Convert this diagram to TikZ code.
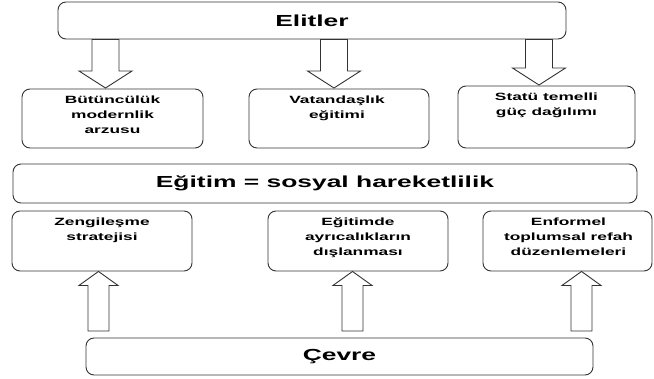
\documentclass[tikz,border=0pt]{standalone}
\usepackage{fontspec}
\setmainfont[FakeStretch=1.65]{Liberation Sans}
\usetikzlibrary{calc}

% block arrow: tail, tip, half shaft, half head, head length
\def\fatarrow#1#2#3#4#5{%
	\path ($(#2)!#5pt!(#1)$) coordinate (hb);
	\draw[blockarrow] ($(#1)+(-#3,0)$) -- ($(hb)+(-#3,0)$) -- ($(hb)+(-#4,0)$) -- (#2)
		-- ($(hb)+(#4,0)$) -- ($(hb)+(#3,0)$) -- ($(#1)+(#3,0)$) -- cycle;}

\begin{document}
\begin{tikzpicture}[x=1pt,y=-1pt,
	box/.style={draw=black!80,line width=0.9pt,rounded corners=8pt,fill=white,inner sep=0pt},
	lbl/.style={align=center,inner sep=0pt,font=\fontsize{10.5}{15}\selectfont\bfseries},
	big/.style={font=\fontsize{16}{19}\selectfont\bfseries},
	blockarrow/.style={draw=black!80,line width=0.9pt,fill=white}]
	
	\useasboundingbox (0,0) rectangle (654,378);
	
	\node[box,big,minimum width=508pt,minimum height=37pt] (elit) at (312,20.5) {Elitler};
	\node[box,minimum width=181pt,minimum height=59pt] (b1) at (112.5,118.5) {};
	\node[box,minimum width=180pt,minimum height=59pt] (b2) at (339,118.5) {};
	\node[box,minimum width=177pt,minimum height=62pt] (b3) at (546.5,117) {};
	\node[box,big,minimum width=624pt,minimum height=39pt] (egitim) at (325,183.5) {Eğitim = sosyal hareketlilik};
	\node[box,minimum width=180pt,minimum height=60pt] (c1) at (102,241) {};
	\node[box,minimum width=180pt,minimum height=60pt] (c2) at (358,241) {};
	\node[box,minimum width=169pt,minimum height=60pt] (c3) at (567.5,241) {};
	\node[box,big,minimum width=507pt,minimum height=37pt] (cevre) at (339.5,356.5) {Çevre};
	
	\node[lbl,anchor=north] (b1t) at ($(b1.north)+(0,7)$) {Bütüncülük\\modernlik\\arzusu};
	\node[lbl,anchor=north] (b2t) at ($(b2.north)+(-2,7)$) {Vatandaşlık\\eğitimi};
	\node[lbl,anchor=north] (b3t) at ($(b3.north)+(0,7)$) {Statü temelli\\güç dağılımı};
	\node[lbl,anchor=north] (c1t) at ($(c1.north)+(0,7)$) {Zengileşme\\stratejisi};
	\node[lbl,anchor=north] (c2t) at ($(c2.north)+(0,7)$) {Eğitimde\\ayrıcalıkların\\dışlanması};
	\node[lbl,anchor=north] (c3t) at ($(c3.north)+(1,7)$) {Enformel\\toplumsal refah\\düzenlemeleri};
	
	% arrows down from Elitler
	\coordinate (d1) at (105.5,88);
	\coordinate (d2) at (334,88);
	\coordinate (d3) at (539,85);
	\fatarrow{elit.south -| d1}{d1}{13.5}{26.5}{17}
	\fatarrow{elit.south -| d2}{d2}{13.5}{26.5}{17}
	\fatarrow{elit.south -| d3}{d3}{13.5}{26.5}{17}
	
	% arrows up from Cevre
	\coordinate (u1) at (98.5,331);
	\coordinate (u2) at (352.5,331);
	\coordinate (u3) at (581.5,331);
	\fatarrow{u1}{c1.south -| u1}{10.5}{19.5}{14}
	\fatarrow{u2}{c2.south -| u2}{10.5}{19.5}{14}
	\fatarrow{u3}{c3.south -| u3}{10.5}{19.5}{14}
	
\end{tikzpicture}
\end{document}
